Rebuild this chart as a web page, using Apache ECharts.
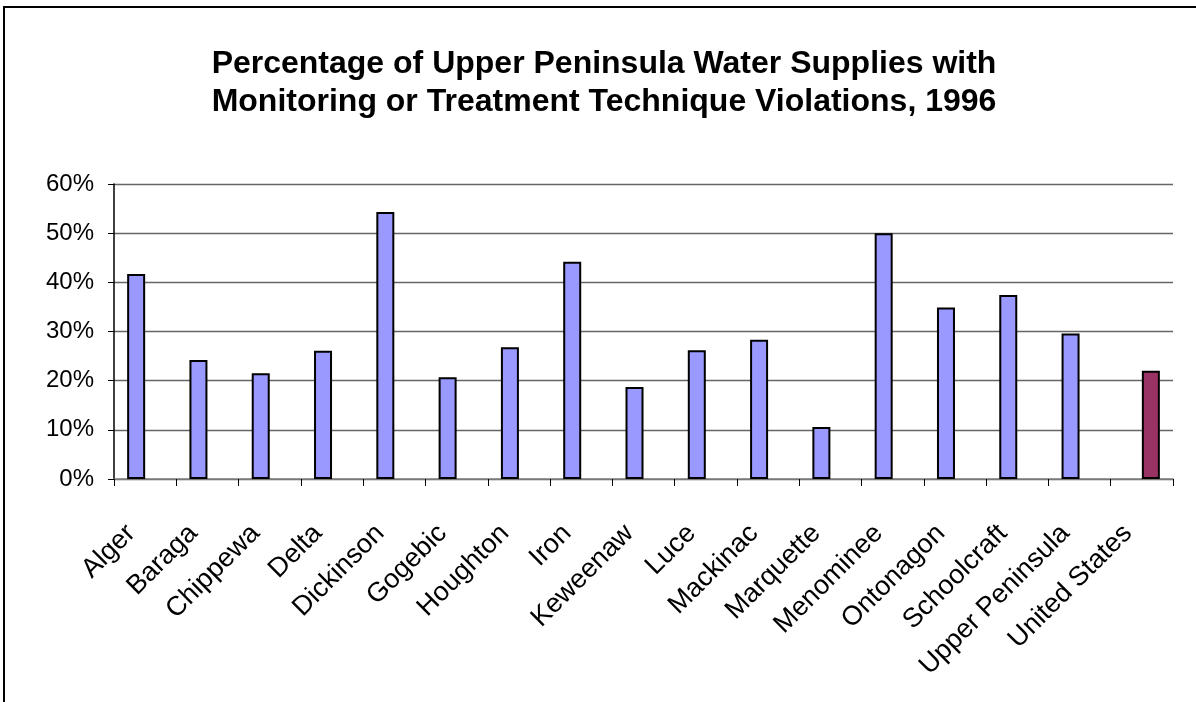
<!DOCTYPE html>
<html>
<head>
<meta charset="utf-8">
<script src="https://cdn.jsdelivr.net/npm/echarts@6/dist/echarts.min.js"></script>
<style>
html,body{margin:0;padding:0;background:#fff;}
#chart{width:1196px;height:702px;}
</style>
</head>
<body>
<div id="chart"></div>
<script>
const categories = ["Alger","Baraga","Chippewa","Delta","Dickinson","Gogebic","Houghton","Iron","Keweenaw","Luce","Mackinac","Marquette","Menominee","Ontonagon","Schoolcraft","Upper Peninsula","United States"];
const regionValues = [41.7,24.2,21.5,26.1,54.3,20.7,26.8,44.2,18.7,26.2,28.3,10.6,50.0,34.9,37.4,29.6,null];
const nationalValues = [null,null,null,null,null,null,null,null,null,null,null,null,null,null,null,null,22.0];
const yTicks = [0,10,20,30,40,50,60];

const chart = echarts.init(document.getElementById('chart'));
chart.setOption({
  animation:false,
  backgroundColor:'#fff',
  title:{
    text:'Percentage of Upper Peninsula Water Supplies with\nMonitoring or Treatment Technique Violations, 1996',
    left:599, top:40, textAlign:'center',
    textStyle:{fontFamily:'Liberation Sans, Arial, sans-serif',fontWeight:'bold',fontSize:32,lineHeight:38,color:'#000'}
  },
  graphic:[
    {type:'polyline',shape:{points:[[4,702],[4,7],[1196,7]]},style:{stroke:'#000',lineWidth:2,fill:null}}
  ],
  grid:{left:114,right:23,top:184,bottom:223},
  xAxis:{
    type:'category',data:categories,boundaryGap:true,
    axisLine:{lineStyle:{color:'#808080',width:1.5}},
    axisTick:{show:true,alignWithLabel:false,length:7,lineStyle:{color:'#000',width:1}},
    axisLabel:{rotate:45,interval:0,fontFamily:'Liberation Sans, Arial, sans-serif',fontSize:27,color:'#000',margin:36,padding:[0,20,0,0]}
  },
  yAxis:{
    type:'value',min:yTicks[0],max:yTicks[yTicks.length-1],interval:10,
    axisLine:{show:true,lineStyle:{color:'#000',width:1.5}},
    axisTick:{show:true,length:6,lineStyle:{color:'#000'}},
    splitLine:{lineStyle:{color:'#666',width:1.3}},
    axisLabel:{formatter:'{value}%',fontFamily:'Liberation Sans, Arial, sans-serif',fontSize:24,color:'#000',margin:20}
  },
  series:[
    {type:'bar',data:regionValues,barWidth:18,barGap:'0%',itemStyle:{color:'#9999FF',borderColor:'#000',borderWidth:2}},
    {type:'bar',data:nationalValues,barWidth:18,barGap:'0%',itemStyle:{color:'#993366',borderColor:'#000',borderWidth:2}}
  ]
});
</script>
</body>
</html>
